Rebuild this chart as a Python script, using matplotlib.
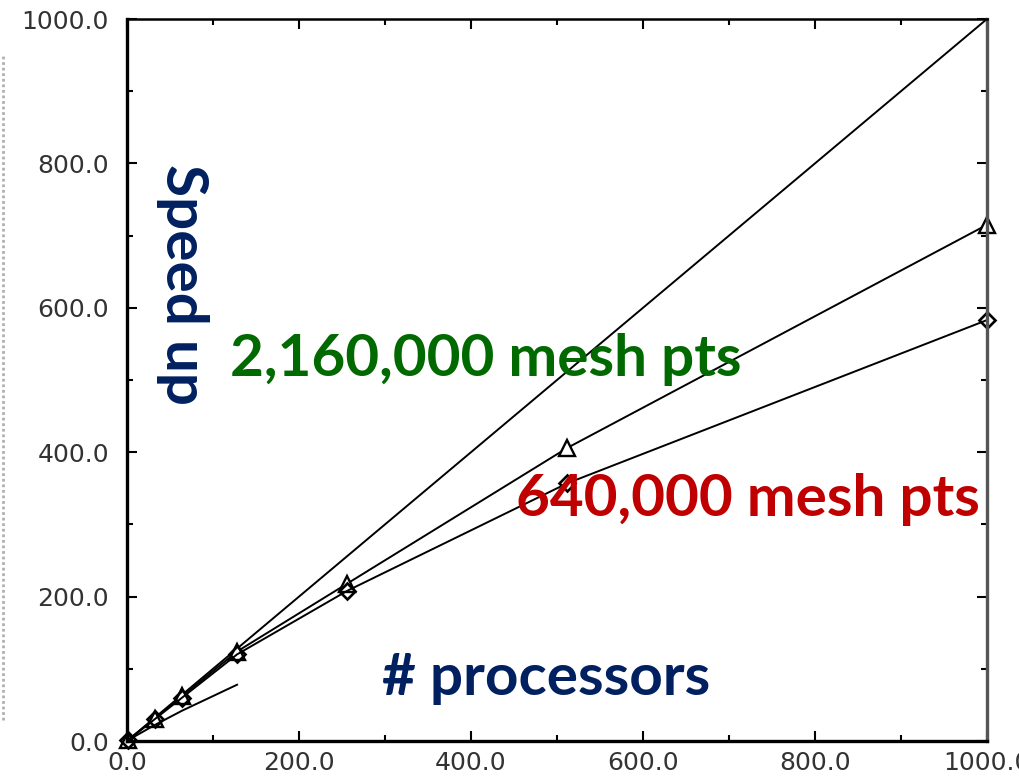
import matplotlib
matplotlib.use("Agg")
import matplotlib.pyplot as plt
from matplotlib.lines import Line2D
from matplotlib.ticker import MultipleLocator, FormatStrFormatter

# processors vs. measured speed-up
ideal_x = [0, 1000]
ideal_y = [0, 1000]

procs = [1, 32, 64, 128, 256, 512, 1000]
speedup_big = [1, 31, 62, 124, 218, 406, 715]     # triangles
speedup_small = [1, 30, 60, 120, 208, 357, 583]   # diamonds

procs_short = [1, 32, 64, 128]
speedup_short = [1, 22, 42, 78]

fig = plt.figure(figsize=(10.2, 7.83), dpi=100)
ax = fig.add_axes([0.1245, 0.0536, 0.8431, 0.9221])

line_kw = dict(color="black", lw=1.4)
ax.plot(ideal_x, ideal_y, **line_kw)
ax.plot(procs, speedup_big, marker="^", ms=11, mfc="white", mec="black",
        mew=1.7, clip_on=False, **line_kw)
ax.plot(procs, speedup_small, marker="D", ms=8, mfc="none", mec="black",
        mew=1.9, clip_on=False, **line_kw)
ax.plot(procs_short, speedup_short, **line_kw)

ax.set_xlim(0, 1000)
ax.set_ylim(0, 1000)

for a in (ax.xaxis, ax.yaxis):
    a.set_major_locator(MultipleLocator(200))
    a.set_minor_locator(MultipleLocator(100))
    a.set_major_formatter(FormatStrFormatter("%.1f"))

ax.tick_params(which="both", direction="in", top=True, right=True,
               labelsize=18, labelcolor="#333333", width=1.5)
ax.tick_params(axis="x", pad=7)
ax.tick_params(axis="y", pad=13)
ax.tick_params(which="major", length=7)
ax.tick_params(which="minor", length=4)
for lab in ax.get_xticklabels() + ax.get_yticklabels():
    lab.set_family("DejaVu Sans")

ax.spines["left"].set_linewidth(2.4)
ax.spines["bottom"].set_linewidth(2.4)
ax.spines["top"].set_linewidth(1.8)
ax.spines["right"].set_linewidth(2.4)
ax.spines["right"].set_color("#555555")

label_kw = dict(family="Lato", weight="bold", ha="center", va="center",
                fontsize=42)
ax.text(65, 632, "Speed up", rotation=270, color="#002060", **label_kw)
ax.text(487, 87, "# processors", color="#002060", **label_kw)
ax.text(417, 528, "2,160,000 mesh pts", color="#006a00", **label_kw)
ax.text(722, 334, "640,000 mesh pts", color="#c00000", **label_kw)

# faint border line at the left edge
fig.add_artist(Line2D([0.003, 0.003], [0.08, 0.93], color="#b0b0b0",
                      lw=2, ls=(0, (1, 1))))

fig.savefig("out.png", dpi=100)
